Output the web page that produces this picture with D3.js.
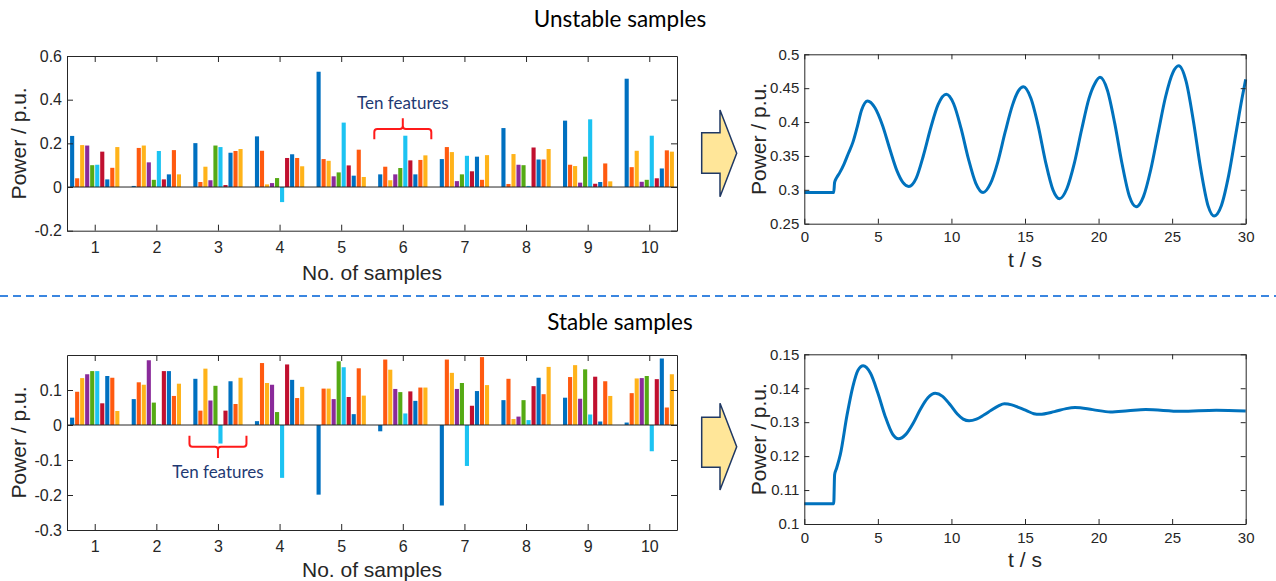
<!DOCTYPE html>
<html>
<head>
<meta charset="utf-8">
<script src="https://cdn.jsdelivr.net/npm/d3@7"></script>
<style>
  body { margin: 0; background: #fff; }
  svg { display: block; }
  text { font-family: "Liberation Sans", Arial, sans-serif; fill: #262626; }
</style>
</head>
<body>
<svg id="chart" width="1276" height="581"></svg>
<script>
// ---- data ----
const samples = [1, 2, 3, 4, 5, 6, 7, 8, 9, 10];
const featureColors = ["#0070C0", "#FF5A10", "#FFB31A", "#8A2A9A", "#55AA14",
                       "#1CC3F2", "#C0102F", "#0070C0", "#FF5A10", "#FFB31A"];

// ten features per sample, unstable case
const unstableBars = [
  [0.234, 0.040, 0.192, 0.190, 0.100, 0.102, 0.162, 0.035, 0.088, 0.183],
  [0.005, 0.179, 0.190, 0.113, 0.033, 0.165, 0.035, 0.058, 0.169, 0.058],
  [0.201, 0.023, 0.093, 0.031, 0.190, 0.183, 0.009, 0.157, 0.165, 0.174],
  [0.232, 0.166, 0.012, 0.018, 0.041, -0.069, 0.133, 0.150, 0.133, 0.095],
  [0.528, 0.128, 0.120, 0.049, 0.067, 0.295, 0.099, 0.052, 0.171, 0.046],
  [0.058, 0.093, 0.031, 0.058, 0.087, 0.235, 0.122, 0.058, 0.124, 0.145],
  [0.128, 0.183, 0.160, 0.027, 0.058, 0.143, 0.072, 0.139, 0.033, 0.146],
  [0.270, 0.014, 0.151, 0.102, 0.100, 0.005, 0.181, 0.126, 0.126, 0.174],
  [0.304, 0.102, 0.096, 0.020, 0.139, 0.310, 0.015, 0.023, 0.108, 0.026],
  [0.496, 0.091, 0.166, 0.024, 0.033, 0.235, 0.040, 0.085, 0.168, 0.162]
];

// ten features per sample, stable case
const stableBars = [
  [0.021, 0.095, 0.134, 0.145, 0.154, 0.154, 0.062, 0.140, 0.135, 0.040],
  [0.074, 0.122, 0.115, 0.185, 0.064, 0.002, 0.154, 0.154, 0.083, 0.118],
  [0.132, 0.041, 0.161, 0.070, 0.112, -0.053, 0.041, 0.125, 0.060, 0.135],
  [0.011, 0.177, 0.120, 0.115, 0.037, -0.151, 0.173, 0.129, 0.077, 0.109],
  [-0.199, 0.104, 0.104, 0.074, 0.182, 0.165, 0.080, 0.031, 0.162, 0.084],
  [-0.018, 0.187, 0.158, 0.103, 0.094, 0.033, 0.096, 0.069, 0.107, 0.107],
  [-0.230, 0.187, 0.149, 0.103, 0.120, -0.117, 0.055, 0.097, 0.194, 0.114],
  [0.071, 0.132, 0.017, 0.024, 0.071, 0.014, 0.111, 0.135, 0.088, 0.166],
  [0.078, 0.137, 0.171, 0.075, 0.159, 0.030, 0.138, 0.010, 0.125, 0.083],
  [0.007, 0.091, 0.133, 0.134, 0.140, -0.075, 0.131, 0.190, 0.050, 0.145]
];

const unstableBarTicks = [-0.2, 0, 0.2, 0.4, 0.6];
const stableBarTicks = [-0.3, -0.2, -0.1, 0, 0.1];

// time responses
const unstableT = [0, 2.0, 2.06, 2.2, 2.4, 2.7, 3.0, 3.3, 3.6, 3.9, 4.3, 4.8, 5.3, 5.8, 6.3, 6.7,
  7.1, 7.6, 8.1, 8.6, 9.1, 9.65, 10.15, 10.65, 11.15, 11.65, 12.15, 12.65, 13.15, 13.65,
  14.15, 14.55, 14.9, 15.4, 15.9, 16.4, 16.9, 17.35, 17.85, 18.35, 18.85, 19.35, 19.75,
  20.1, 20.6, 21.1, 21.6, 22.1, 22.55, 23.05, 23.55, 24.05, 24.55, 25.05, 25.45, 25.95,
  26.45, 26.95, 27.45, 27.85, 28.35, 28.85, 29.35, 29.75, 30];
const unstableP = [0.296, 0.296, 0.311, 0.318, 0.325, 0.338, 0.354, 0.370, 0.393, 0.418, 0.431,
  0.421, 0.396, 0.361, 0.328, 0.311, 0.305, 0.317, 0.351, 0.392, 0.426, 0.441, 0.427,
  0.391, 0.346, 0.310, 0.296, 0.309, 0.341, 0.385, 0.425, 0.446, 0.452, 0.435, 0.394,
  0.341, 0.300, 0.287, 0.302, 0.339, 0.389, 0.435, 0.457, 0.466, 0.447, 0.398, 0.338,
  0.290, 0.275, 0.290, 0.330, 0.384, 0.437, 0.473, 0.483, 0.460, 0.401, 0.330, 0.276,
  0.2615, 0.277, 0.322, 0.385, 0.435, 0.463];

const stableT = [0, 2.0, 2.06, 2.2, 2.45, 2.9, 3.3, 3.65, 4.0, 4.5, 5.0, 5.5, 6.0, 6.4, 6.9,
  7.4, 7.9, 8.4, 8.9, 9.4, 9.9, 10.4, 10.8, 11.2, 11.7, 12.2, 12.7, 13.2, 13.6, 14.1, 14.6,
  15.1, 15.6, 16.0, 17.0, 17.8, 18.4, 19.6, 20.8, 22.0, 23.2, 25.6, 28.0, 30];
const stableP = [0.106, 0.106, 0.1145, 0.1165, 0.1205, 0.132, 0.1405, 0.1453, 0.1466, 0.1444,
  0.1386, 0.1317, 0.1265, 0.1251, 0.1264, 0.1297, 0.1339, 0.1372, 0.1385, 0.1376, 0.1352,
  0.1324, 0.1309, 0.1304, 0.1309, 0.1321, 0.1335, 0.1348, 0.1354, 0.1351, 0.1343, 0.1334,
  0.1325, 0.1323, 0.1331, 0.1340, 0.1343, 0.1337, 0.1330, 0.13335, 0.1337, 0.1332, 0.1335,
  0.1333];

const timeTicks = [0, 5, 10, 15, 20, 25, 30];
const unstablePowerTicks = [0.25, 0.3, 0.35, 0.4, 0.45, 0.5];
const stablePowerTicks = [0.1, 0.11, 0.12, 0.13, 0.14, 0.15];

// ---- drawing ----
const svg = d3.select("#chart");
svg.append("rect").attr("width", 1276).attr("height", 581).attr("fill", "#fff");

const fmt = d => String(+d.toFixed(3));
const axisColor = "#262626";

// matlab-like box with inward ticks on all four sides
function boxAxes(g, x, y, xTicks, yTicks, opt) {
  const [x0, x1] = x.range();
  const [y0, y1] = y.range();
  const axes = [
    g.append("g").attr("transform", `translate(0,${y0})`)
      .call(d3.axisBottom(x).tickValues(xTicks).tickSize(-opt.tick).tickSizeOuter(0)
        .tickPadding(opt.xPad).tickFormat(fmt)),
    g.append("g").attr("transform", `translate(0,${y1})`)
      .call(d3.axisTop(x).tickValues(xTicks).tickSize(-opt.tick).tickSizeOuter(0).tickFormat("")),
    g.append("g").attr("transform", `translate(${x0},0)`)
      .call(d3.axisLeft(y).tickValues(yTicks).tickSize(-opt.tick).tickSizeOuter(0)
        .tickPadding(5).tickFormat(fmt)),
    g.append("g").attr("transform", `translate(${x1},0)`)
      .call(d3.axisRight(y).tickValues(yTicks).tickSize(-opt.tick).tickSizeOuter(0).tickFormat(""))
  ];
  axes.forEach(a => {
    a.select(".domain").attr("stroke", axisColor).attr("stroke-width", 1);
    a.selectAll(".tick line").attr("stroke", axisColor);
    a.selectAll(".tick text").attr("font-size", opt.font)
      .attr("font-family", '"Liberation Sans", Arial, sans-serif').attr("fill", axisColor);
  });
  // axis titles
  g.append("text").attr("x", (x0 + x1) / 2).attr("y", opt.xTitleY)
    .attr("text-anchor", "middle").attr("font-size", 21).text(opt.xTitle);
  g.append("text")
    .attr("transform", `translate(${opt.yTitleX},${(y0 + y1) / 2}) rotate(-90)`)
    .attr("text-anchor", "middle").attr("font-size", 21).text("Power / p.u.");
}

function barChart(data, yDomain, yRange, yTicks, titleY) {
  const g = svg.append("g");
  const x = d3.scaleLinear().domain([0.55, 10.45]).range([67, 677]);
  const y = d3.scaleLinear().domain(yDomain).range(yRange);
  const half = (x(1.4) - x(0.6)) / 2;
  const xb = d3.scaleBand().domain(d3.range(10)).range([-half, half]).paddingInner(0.18);

  const groups = g.selectAll("g.sample").data(samples).join("g")
    .attr("class", "sample")
    .attr("transform", s => `translate(${x(s)},0)`);
  groups.selectAll("rect").data((s, i) => data[i]).join("rect")
    .attr("x", (v, j) => xb(j))
    .attr("width", xb.bandwidth())
    .attr("y", v => y(Math.max(0, v)))
    .attr("height", v => Math.abs(y(v) - y(0)))
    .attr("fill", (v, j) => featureColors[j]);

  g.append("line").attr("x1", x.range()[0]).attr("x2", x.range()[1])
    .attr("y1", y(0)).attr("y2", y(0)).attr("stroke", axisColor).attr("stroke-width", 1);

  boxAxes(g, x, y, samples, yTicks, {
    tick: 6, xPad: 11, font: 16, xTitle: "No. of samples", xTitleY: titleY, yTitleX: 26
  });
  return { x, y };
}

function lineChart(ts, ps, yDomain, yRange, yTicks, titleY) {
  const g = svg.append("g");
  const x = d3.scaleLinear().domain([0, 30]).range([804.3, 1245.7]);
  const y = d3.scaleLinear().domain(yDomain).range(yRange);
  const line = d3.line().x(i => x(ts[i])).y(i => y(ps[i])).curve(d3.curveMonotoneX);
  g.append("path").attr("d", line(d3.range(ts.length)))
    .attr("fill", "none").attr("stroke", "#0072BD").attr("stroke-width", 3)
    .attr("stroke-linejoin", "round");
  boxAxes(g, x, y, timeTicks, yTicks, {
    tick: 5, xPad: 8, font: 15, xTitle: "t / s", xTitleY: titleY, yTitleX: 766
  });
}

function brace(xl, xr, yEnd, yBar, ySpike) {
  const xc = (xl + xr) / 2;
  const s = Math.sign(yEnd - yBar) * 3;
  const p = d3.path();
  p.moveTo(xl, yEnd);
  p.lineTo(xl, yBar + s);
  p.quadraticCurveTo(xl, yBar, xl + 3, yBar);
  p.lineTo(xc - 3, yBar);
  p.quadraticCurveTo(xc, yBar, xc, yBar - s);
  p.lineTo(xc, ySpike);
  p.moveTo(xc, yBar - s);
  p.quadraticCurveTo(xc, yBar, xc + 3, yBar);
  p.lineTo(xr - 3, yBar);
  p.quadraticCurveTo(xr, yBar, xr, yBar + s);
  p.lineTo(xr, yEnd);
  svg.append("path").attr("d", p.toString()).attr("fill", "none")
    .attr("stroke", "#FF1A1A").attr("stroke-width", 2);
}

function blockArrow(sy0, sy1, hy0, hy1) {
  const xs = 701.7, xh = 720, xt = 736.7, ym = (hy0 + hy1) / 2;
  svg.append("path")
    .attr("d", `M${xs},${sy0}L${xh},${sy0}L${xh},${hy0}L${xt},${ym}L${xh},${hy1}L${xh},${sy1}L${xs},${sy1}Z`)
    .attr("fill", "#FFE699").attr("stroke", "#1F3864").attr("stroke-width", 1.5)
    .attr("stroke-linejoin", "miter");
}

function sectionTitle(txt, yy) {
  svg.append("text").attr("x", 620).attr("y", yy).attr("text-anchor", "middle")
    .attr("font-size", 22.5)
    .style("font-family", "Lato, 'Open Sans', sans-serif").style("fill", "#000").text(txt);
}

function note(xc, yy) {
  svg.append("text").attr("x", xc).attr("y", yy).attr("text-anchor", "middle")
    .style("font-family", "Lato, 'Open Sans', sans-serif").attr("font-size", 17)
    .style("fill", "#1F3A73").text("Ten features");
}

// top row: unstable
sectionTitle("Unstable samples", 27);
const topChart = barChart(unstableBars, [-0.2, 0.6], [230.7, 56], unstableBarTicks, 280);
lineChart(unstableT, unstableP, [0.25, 0.5], [223.7, 54.3], unstablePowerTicks, 267);
note(topChart.x(6), 109);
brace(topChart.x(6) - 28.5, topChart.x(6) + 28.5, 139.3, 129, 118.3);
blockArrow(132.7, 173.3, 110, 196.7);

// separator
svg.append("line").attr("x1", 0).attr("x2", 1276).attr("y1", 296).attr("y2", 296)
  .attr("stroke", "#3A86E0").attr("stroke-width", 2).attr("stroke-dasharray", "8,5");

// bottom row: stable
sectionTitle("Stable samples", 330);
const botChart = barChart(stableBars, [-0.3, 0.2], [530, 355], stableBarTicks, 577);
lineChart(stableT, stableP, [0.1, 0.15], [524, 354.3], stablePowerTicks, 567);
note(botChart.x(3), 478);
brace(botChart.x(3) - 28.5, botChart.x(3) + 28.5, 435.7, 446.7, 458);
blockArrow(417.3, 467.3, 403.3, 490);
</script>
</body>
</html>
